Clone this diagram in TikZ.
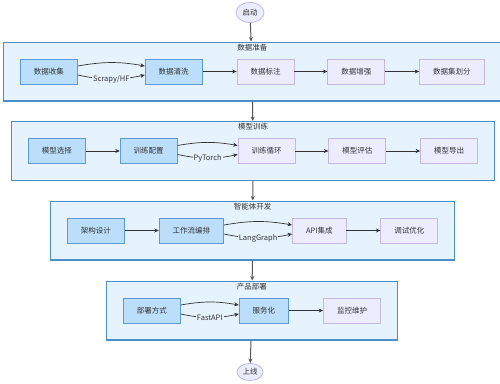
\documentclass[tikz,border=0pt]{standalone}
\usepackage{fontspec}
\setmainfont{Noto Sans CJK SC}
\usetikzlibrary{shapes.geometric, positioning, arrows.meta, fit, backgrounds}
\definecolor{groupfill}{HTML}{E6F3FC}
\definecolor{groupdraw}{HTML}{4A8FC7}
\definecolor{bluefill}{HTML}{BBDEFB}
\definecolor{bluedraw}{HTML}{5B9BD5}
\definecolor{lavfill}{HTML}{ECECFF}
\definecolor{lavdraw}{HTML}{C4B8E6}
\definecolor{textgray}{HTML}{333333}
\definecolor{linegray}{HTML}{555555}
\tikzset{
  bluebox/.style={rectangle, minimum height=25pt, inner xsep=13.5pt, text centered, draw=bluedraw, fill=bluefill, line width=0.8pt},
  lavbox/.style={rectangle, minimum height=25pt, inner xsep=13.5pt, text centered, draw=lavdraw, fill=lavfill, line width=0.8pt},
  terminal/.style={ellipse, inner sep=0pt, text centered, draw=lavdraw, fill=lavfill, line width=0.8pt},
  group/.style={rectangle, draw=groupdraw, fill=groupfill, line width=1.2pt, inner sep=16.5pt},
  grouptitle/.style={anchor=north, inner sep=1pt},
  edgelabel/.style={fill=groupfill, inner sep=1pt},
  arrow/.style={line width=0.7pt, draw=textgray, -{Stealth[length=4.5pt, width=4pt]}},
  linkarrow/.style={line width=1pt, draw=linegray, -{Stealth[length=4.5pt, width=4pt]}}
}
\begin{document}
\begin{tikzpicture}[x=1pt, y=-1pt,
            every node/.style={text=textgray, font=\fontsize{7.5pt}{9pt}\selectfont}
        ]
            \useasboundingbox (0,0) rectangle (500,383);

            % Inicio y fin
            \node (start) [terminal, minimum width=28pt, minimum height=20pt] at (250,12.5) {启动};
            \node (finish) [terminal, minimum width=26pt, minimum height=17pt] at (250,372) {上线};

            % Fila 1: datos
            \node (collect) [bluebox, anchor=west] at (20,71.5) {数据收集};
            \node (clean) [bluebox, right=67pt of collect] {数据清洗};
            \node (label) [lavbox, right=34pt of clean] {数据标注};
            \node (augment) [lavbox, right=33pt of label] {数据增强};
            \node (split) [lavbox, right=34pt of augment] {数据集划分};

            % Fila 2: entrenamiento
            \node (select) [bluebox, anchor=west] at (28,151) {模型选择};
            \node (config) [bluebox, right=34pt of select] {训练配置};
            \node (loop) [lavbox, right=60pt of config] {训练循环};
            \node (evaluate) [lavbox, right=33pt of loop] {模型评估};
            \node (export) [lavbox, right=34pt of evaluate] {模型导出};

            % Fila 3: agente
            \node (design) [bluebox, anchor=west] at (67,230.5) {架构设计};
            \node (workflow) [bluebox, right=34pt of design] {工作流编排};
            \node (api) [lavbox, right=68pt of workflow] {API集成};
            \node (debug) [lavbox, right=34pt of api] {调试优化};

            % Fila 4: despliegue
            \node (deploy) [bluebox, anchor=west] at (123,310.5) {部署方式};
            \node (serve) [bluebox, right=58pt of deploy] {服务化};
            \node (monitor) [lavbox, right=34pt of serve] {监控维护};

            % Marcos de los grupos
            \begin{scope}[on background layer]
                \node (g1) [group, fit=(collect)(split)] {};
                \node (g2) [group, fit=(select)(export)] {};
                \node (g3) [group, fit=(design)(debug)] {};
                \node (g4) [group, fit=(deploy)(monitor)] {};
            \end{scope}
            \node (t1) [grouptitle] at ([yshift=-1pt]g1.north) {数据准备};
            \node (t2) [grouptitle] at ([yshift=-1pt]g2.north) {模型训练};
            \node (t3) [grouptitle] at ([yshift=-1pt]g3.north) {智能体开发};
            \node (t4) [grouptitle] at ([yshift=-1pt]g4.north) {产品部署};

            % Conexiones entre grupos
            \draw [linkarrow] (start) -- (g1);
            \draw [linkarrow] (g1) -- (g2);
            \draw [linkarrow] (g2) -- (g3);
            \draw [linkarrow] (g3) -- (g4);
            \draw [linkarrow] (g4) -- (finish);

            % Conexiones dobles con etiqueta
            \draw [arrow] ([yshift=5.5pt]collect.east) to[bend left=10] ([yshift=5.5pt]clean.west);
            \draw [arrow] ([yshift=-3.5pt]collect.east) to[bend right=12] node[edgelabel] {Scrapy/HF} ([yshift=-3.5pt]clean.west);
            \draw [arrow] ([yshift=5.5pt]config.east) to[bend left=10] ([yshift=5.5pt]loop.west);
            \draw [arrow] ([yshift=-3.5pt]config.east) to[bend right=12] node[edgelabel] {PyTorch} ([yshift=-3.5pt]loop.west);
            \draw [arrow] ([yshift=5.5pt]workflow.east) to[bend left=10] ([yshift=5.5pt]api.west);
            \draw [arrow] ([yshift=-3.5pt]workflow.east) to[bend right=12] node[edgelabel] {LangGraph} ([yshift=-3.5pt]api.west);
            \draw [arrow] ([yshift=5.5pt]deploy.east) to[bend left=10] ([yshift=5.5pt]serve.west);
            \draw [arrow] ([yshift=-3.5pt]deploy.east) to[bend right=12] node[edgelabel] {FastAPI} ([yshift=-3.5pt]serve.west);

            % Conexiones directas
            \draw [arrow] (clean) -- (label);
            \draw [arrow] (label) -- (augment);
            \draw [arrow] (augment) -- (split);
            \draw [arrow] (select) -- (config);
            \draw [arrow] (loop) -- (evaluate);
            \draw [arrow] (evaluate) -- (export);
            \draw [arrow] (design) -- (workflow);
            \draw [arrow] (api) -- (debug);
            \draw [arrow] (serve) -- (monitor);

        \end{tikzpicture}
\end{document}
